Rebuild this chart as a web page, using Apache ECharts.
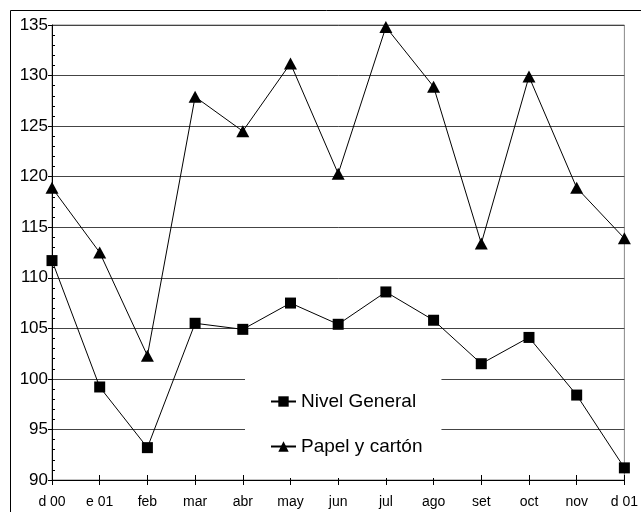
<!DOCTYPE html>
<html><head><meta charset="utf-8">
<script src="https://cdn.jsdelivr.net/npm/echarts@6/dist/echarts.min.js"></script>
<style>html,body{margin:0;padding:0;background:#fff}#c{width:641px;height:512px}</style>
</head><body><div id="c"></div>
<script>
const categories = ['d 00','e 01','feb','mar','abr','may','jun','jul','ago','set','oct','nov','d 01'];
const nivelGeneral = [111.7, 99.2, 93.2, 105.5, 104.9, 107.5, 105.4, 108.6, 105.8, 101.5, 104.1, 98.4, 91.2];
const papelCarton = [118.9, 112.5, 102.3, 127.9, 124.5, 131.2, 120.3, 134.8, 128.9, 113.4, 129.9, 118.9, 113.9];
const yMin = 90, yMax = 135, yStep = 5;

const chart = echarts.init(document.getElementById('c'), null, {renderer:'canvas'});
const font = 'Liberation Sans, Arial, sans-serif';
chart.setOption({
  animation: false,
  backgroundColor: '#fff',
  graphic: [{type:'rect', shape:{x:10.5,y:10.5,width:700,height:600}, style:{fill:'none', stroke:'#000', lineWidth:1}, z:-10}],
  grid: {left:52, top:25, right:11, bottom:32, show:true, borderColor:'#888', borderWidth:1, backgroundColor:'transparent'},
  legend: {
    orient:'vertical', left:245, top:362,
    padding:[30,19,22,25], itemGap:26, itemWidth:25, itemHeight:13,
    backgroundColor:'#fff',
    textStyle:{fontFamily:font, fontSize:19, color:'#000', lineHeight:19},
    data:['Nivel General','Papel y cartón']
  },
  xAxis: [{
    type:'category', data:categories, boundaryGap:false, position:'bottom',
    axisLine:{lineStyle:{color:'#000', width:1}},
    axisTick:{show:true, length:5, lineStyle:{color:'#000'}},
    axisLabel:{fontFamily:font, fontSize:14, color:'#000', margin:15},
    splitLine:{show:false}
  },{
    type:'category', data:categories, boundaryGap:false, position:'bottom',
    axisLine:{show:false},
    axisTick:{show:true, inside:true, length:5, lineStyle:{color:'#000'}},
    axisLabel:{show:false}, splitLine:{show:false}
  }],
  yAxis: [{
    type:'value', min:yMin, max:yMax, interval:yStep, position:'left',
    axisLine:{show:true, lineStyle:{color:'#000', width:1}},
    axisTick:{show:true, length:4, lineStyle:{color:'#000'}},
    axisLabel:{fontFamily:font, fontSize:17, color:'#000', margin:4},
    splitLine:{show:true, lineStyle:{color:'#444', width:1}}
  },{
    type:'value', min:yMin, max:yMax, interval:yStep, position:'left',
    axisLine:{show:false},
    axisTick:{show:false, inside:true},
    minorTick:{show:true, splitNumber:5, length:3, lineStyle:{color:'#000'}},
    axisLabel:{show:false}, splitLine:{show:false}
  }],
  series: [{
    name:'Nivel General', type:'line', data:nivelGeneral,
    symbol:'rect', symbolSize:11, showAllSymbol:true,
    lineStyle:{color:'#000', width:1}, itemStyle:{color:'#000'}
  },{
    name:'Papel y cartón', type:'line', data:papelCarton,
    symbol:'triangle', symbolSize:[13,12], showAllSymbol:true,
    lineStyle:{color:'#000', width:1}, itemStyle:{color:'#000'}
  }]
});
</script></body></html>
